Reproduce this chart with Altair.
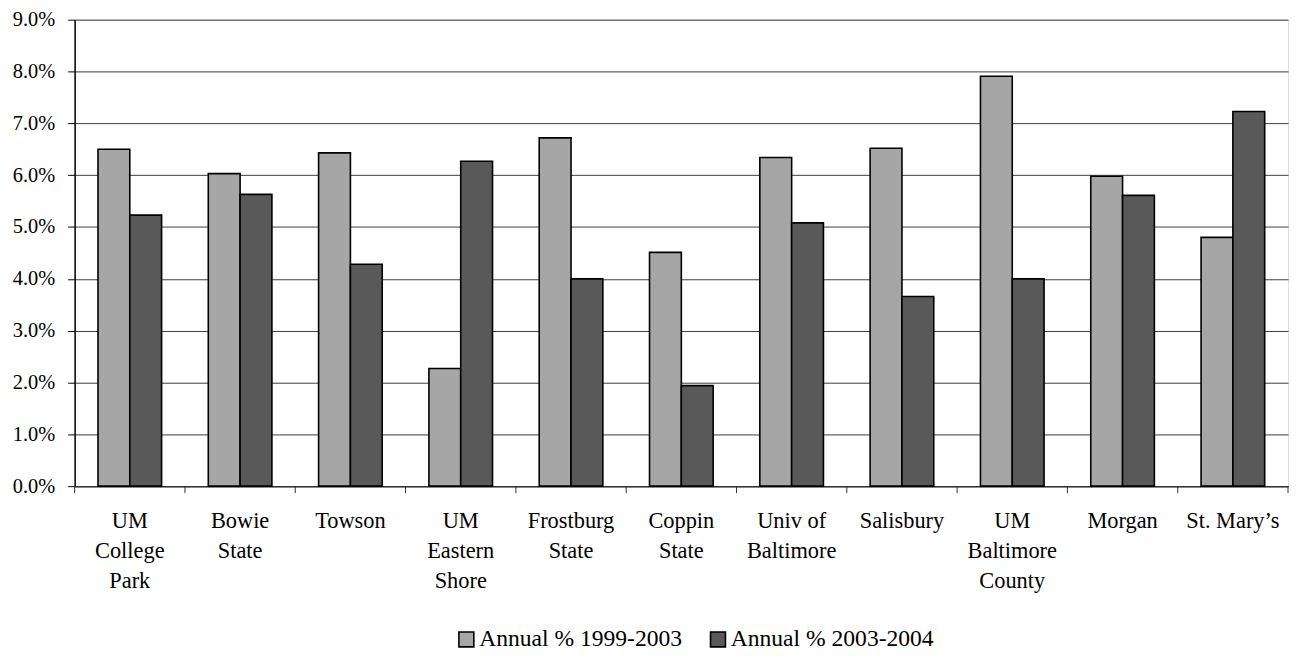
import altair as alt
import pandas as pd

labels = ["UM|College|Park", "Bowie|State", "Towson", "UM|Eastern|Shore", "Frostburg|State",
          "Coppin|State", "Univ of|Baltimore", "Salisbury", "UM|Baltimore|County", "Morgan", "St. Mary\u2019s"]
series = ["Annual % 1999-2003", "Annual % 2003-2004"]
s1 = [6.50, 6.03, 6.43, 2.27, 6.72, 4.51, 6.34, 6.52, 7.91, 5.98, 4.80]
s2 = [5.23, 5.63, 4.28, 6.27, 4.00, 1.94, 5.08, 3.66, 4.00, 5.61, 7.23]
colors = ["#A6A6A6", "#595959"]

rows = []
for i, lab in enumerate(labels):
    rows.append({"label": lab, "series": series[0], "value": s1[i] / 100})
    rows.append({"label": lab, "series": series[1], "value": s2[i] / 100})
df = pd.DataFrame(rows)
ticks_df = pd.DataFrame({"label": labels})

FONT = "Liberation Serif, Times New Roman, DejaVu Serif, serif"
W, H = 1220, 469

xaxis = alt.Axis(labelExpr="split(datum.label, '|')", labelAngle=0, ticks=False, title=None,
                 labelFont=FONT, labelFontSize=22.5, labelColor="black",
                 labelLineHeight=30, labelPadding=24, labelBaseline="top",
                 domainColor="#333", domainWidth=1.5, grid=False)

bars = alt.Chart(df).mark_bar(stroke="black", strokeWidth=1.6).encode(
    x=alt.X("label:N", sort=labels, title=None,
            scale=alt.Scale(paddingInner=0, paddingOuter=0), axis=xaxis),
    xOffset=alt.XOffset("series:N", sort=series,
                        scale=alt.Scale(paddingInner=0, paddingOuter=0.734)),
    y=alt.Y("value:Q", title=None,
            scale=alt.Scale(domain=[0, 0.09], nice=False),
            axis=alt.Axis(format=".1%", values=[i / 100 for i in range(10)],
                          labelFont=FONT, labelFontSize=20.5, labelColor="black",
                          labelPadding=13, tickSize=7, tickColor="black", tickWidth=1,
                          domainColor="black", domainWidth=1.5,
                          grid=True, gridColor="#3c3c3c", gridWidth=1)),
    color=alt.Color("series:N", sort=series, scale=alt.Scale(domain=series, range=colors),
                    legend=alt.Legend(title=None, orient="none", legendX=382, legendY=611,
                                      direction="horizontal", symbolType="square",
                                      symbolSize=225, symbolStrokeColor="black",
                                      symbolStrokeWidth=1.6, labelFont=FONT,
                                      labelFontSize=23.7, labelColor="black", labelLimit=400,
                                      labelOffset=1, columnPadding=24)),
)

xticks = alt.Chart(ticks_df).mark_rule(color="#333", strokeWidth=1).encode(
    x=alt.X("label:N", sort=labels, bandPosition=0, title=None, axis=xaxis),
    y=alt.value(H), y2=alt.value(H + 7),
)
endtick = alt.Chart(ticks_df.head(1)).mark_rule(color="#333", strokeWidth=1).encode(
    x=alt.value(W), y=alt.value(H), y2=alt.value(H + 7),
)

chart = alt.layer(bars, xticks, endtick).properties(
    width=W, height=H,
    autosize=alt.AutoSizeParams(type="none"),
    padding={"left": 67, "top": 10, "right": 5, "bottom": 164},
).configure_view(stroke="#8c8c8c", strokeWidth=2).configure(background="white")

chart.save("out.html", embed_options={"renderer": "svg", "actions": False})
